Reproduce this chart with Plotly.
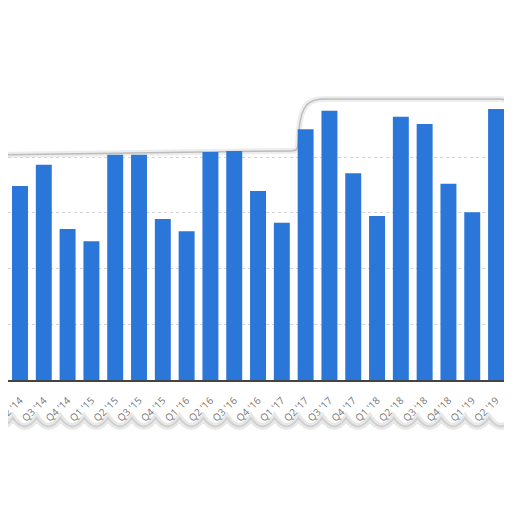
import plotly.graph_objects as go

# quarterly values (y axis unlabelled, grid every 10)
quarters = ["Q1 '14", "Q2 '14", "Q3 '14", "Q4 '14",
            "Q1 '15", "Q2 '15", "Q3 '15", "Q4 '15",
            "Q1 '16", "Q2 '16", "Q3 '16", "Q4 '16",
            "Q1 '17", "Q2 '17", "Q3 '17", "Q4 '17",
            "Q1 '18", "Q2 '18", "Q3 '18", "Q4 '18",
            "Q1 '19", "Q2 '19", "Q3 '19"]
values = [22.4, 34.8, 38.6, 27.1,
          24.9, 40.4, 40.4, 28.9,
          26.7, 40.9, 41.1, 33.9,
          28.2, 45.0, 48.3, 37.1,
          29.4, 47.2, 45.9, 35.2,
          30.1, 48.6, 44.0]
grid_vals = [10, 20, 30, 40]

BAR_COLOR = '#2b76d9'

# page body has an 8px margin, so the figure is 504 wide and starts at x=8
x0, x1 = 0.496, 21.67
span = x1 - x0

fig = go.Figure()

fig.add_trace(go.Bar(
    x=list(range(len(quarters))), y=values,
    marker=dict(color=BAR_COLOR, line=dict(width=0)),
    hoverinfo='skip'
))

def px(p):
    # page pixel x -> paper x
    return (p - 8) / 504.0

# torn paper outline (top edge with the step, right edge)
top_edge = (f"M {px(0):.4f},0.776 L {px(150):.4f},0.784 L {px(290):.4f},0.790 "
            f"C {px(298):.4f},0.790 {px(298):.4f},0.79 {px(299):.4f},0.86 "
            f"C {px(301):.4f},0.955 {px(310):.4f},0.969 {px(325):.4f},0.969 "
            f"L {px(500):.4f},0.969 Q {px(509):.4f},0.969 {px(509):.4f},0.94 "
            f"L {px(509):.4f},0.0")
shapes = [
    dict(type='path', path=top_edge, xref='paper', yref='paper',
         line=dict(color='rgba(0,0,0,0.07)', width=6), layer='below'),
    dict(type='path', path=top_edge, xref='paper', yref='paper',
         line=dict(color='#bdbdbd', width=1.5), layer='below'),
]

# wavy torn bottom edge under the tick labels, one scallop per quarter
wave = f"M {px(0):.4f},-0.125"
for i in range(len(quarters)):
    a = (i - 1.3 - x0) / span
    b = (i - 0.3 - x0) / span
    m = (a + b) / 2
    wave += f" L {a:.4f},-0.13 Q {m:.4f},-0.19 {b:.4f},-0.13"
shapes.append(dict(type='path', path=wave, xref='paper', yref='paper',
                   line=dict(color='rgba(0,0,0,0.09)', width=7)))
shapes.append(dict(type='path', path=wave, xref='paper', yref='paper',
                   line=dict(color='rgba(0,0,0,0.10)', width=2)))

fig.update_layout(
    width=504, height=504,
    margin=dict(l=0, r=0, t=82, b=132),
    paper_bgcolor='white', plot_bgcolor='white',
    showlegend=False,
    bargap=0.33,
    shapes=shapes,
    xaxis=dict(
        range=[x0, x1],
        tickmode='array',
        tickvals=list(range(len(quarters))),
        ticktext=quarters,
        tickangle=-45,
        tickfont=dict(family='Open Sans, sans-serif', size=10, color='#777777'),
        ticklabeloverflow='allow',
        showgrid=False,
        showline=True, linecolor='#444444', linewidth=1.5,
        ticks='outside', ticklen=9, tickcolor='rgba(0,0,0,0)',
        automargin=False,
        fixedrange=True,
    ),
    yaxis=dict(
        range=[0, 52.02],
        tickmode='array',
        tickvals=grid_vals,
        showticklabels=False,
        showgrid=True, gridcolor='#d4d4d4', griddash='dot', gridwidth=1,
        zeroline=False,
        automargin=False,
        fixedrange=True,
    ),
)

fig.write_html("out.html")
